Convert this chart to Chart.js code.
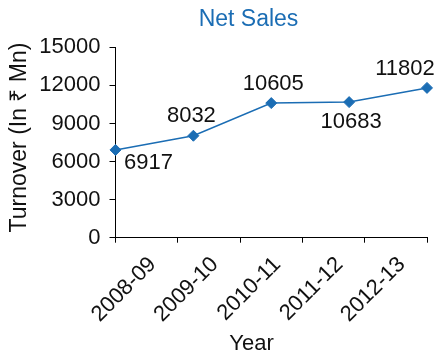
<!DOCTYPE html>
<html>
<head>
<meta charset="utf-8">
<title>Net Sales</title>
<script src="https://cdn.jsdelivr.net/npm/chart.js@4"></script>
<style>
  html, body { margin: 0; padding: 0; background: #fff; }
  #wrap { width: 441px; height: 356px; }
</style>
</head>
<body>
<div id="wrap"><canvas id="salesChart" width="441" height="356"></canvas></div>
<script>
const years = ['2008-09', '2009-10', '2010-11', '2011-12', '2012-13'];
const salesValues = [6917, 8032, 10605, 10683, 11802];
const turnoverTicks = [0, 3000, 6000, 9000, 12000, 15000];

const BLUE = '#1b6db4';
const INK = '#111111';
const FONT = "'Liberation Sans', Arial, sans-serif";

// value labels next to each marker (dx, dy from the point)
const valueLabels = {
    id: 'valueLabels',
    afterDatasetsDraw(chart, args, opts) {
        const { ctx } = chart;
        const meta = chart.getDatasetMeta(0);
        ctx.save();
        ctx.font = `22px ${FONT}`;
        ctx.fillStyle = INK;
        ctx.textAlign = 'center';
        ctx.textBaseline = 'middle';
        meta.data.forEach((pt, i) => {
            const [dx, dy] = opts.offsets[i];
            ctx.fillText(String(salesValues[i]), pt.x + dx, pt.y + dy);
        });
        ctx.restore();
    }
};

// chart title and both axis titles
const captions = {
    id: 'captions',
    afterDraw(chart) {
        const { ctx } = chart;
        ctx.save();
        ctx.textAlign = 'center';
        ctx.textBaseline = 'alphabetic';
        ctx.font = `23px ${FONT}`;
        ctx.fillStyle = BLUE;
        ctx.fillText('Net Sales', 248.5, 26);
        ctx.font = `22px ${FONT}`;
        ctx.fillStyle = INK;
        ctx.fillText('Year', 251.5, 350);
        ctx.translate(20, 137.5);
        ctx.rotate(-Math.PI / 2);
        ctx.font = `23px ${FONT}`;
        ctx.textBaseline = 'middle';
        ctx.fillText('Turnover (In ₹ Mn)', 0, 0);
        ctx.restore();
    }
};

new Chart(document.getElementById('salesChart'), {
    type: 'line',
    data: {
        labels: years,
        datasets: [{
            label: 'Net Sales',
            data: salesValues,
            xAxisID: 'x',
            yAxisID: 'y',
            borderColor: BLUE,
            borderWidth: 1.5,
            backgroundColor: BLUE,
            pointStyle: 'rectRot',
            pointRadius: 5.5,
            pointBorderWidth: 1,
            pointBorderColor: BLUE,
            pointBackgroundColor: BLUE,
            tension: 0,
            fill: false
        }]
    },
    options: {
        responsive: false,
        animation: false,
        layout: { padding: { top: 47.3, right: 14, bottom: 0, left: 0 } },
        plugins: {
            legend: { display: false },
            tooltip: { enabled: false },
            valueLabels: {
                offsets: [[33, 13], [-2, -20], [2, -19], [2, 20], [-22, -19]]
            }
        },
        scales: {
            x: {
                type: 'category',
                display: false,
                offset: false
            },
            x2: {
                type: 'category',
                position: 'bottom',
                offset: true,
                labels: years,
                grid: {
                    offset: true,
                    drawOnChartArea: false,
                    drawTicks: true,
                    tickLength: 5,
                    color: '#000'
                },
                border: { display: true, color: '#000', width: 1 },
                ticks: {
                    minRotation: 45,
                    maxRotation: 45,
                    autoSkip: false,
                    padding: 9,
                    labelOffset: 6,
                    color: INK,
                    font: { family: FONT, size: 22 }
                },
                afterFit(scale) { scale.height = 118.3; }
            },
            y: {
                min: 0,
                max: 15000,
                afterBuildTicks(scale) {
                    scale.ticks = turnoverTicks.map(v => ({ value: v }));
                },
                grid: {
                    drawOnChartArea: false,
                    drawTicks: true,
                    tickLength: 6,
                    color: '#000'
                },
                border: { display: true, color: '#000', width: 1 },
                ticks: {
                    padding: 9,
                    color: INK,
                    font: { family: FONT, size: 22 },
                    callback: v => String(v)
                },
                afterFit(scale) { scale.width = 115.5; }
            }
        }
    },
    plugins: [valueLabels, captions]
});
</script>
</body>
</html>
